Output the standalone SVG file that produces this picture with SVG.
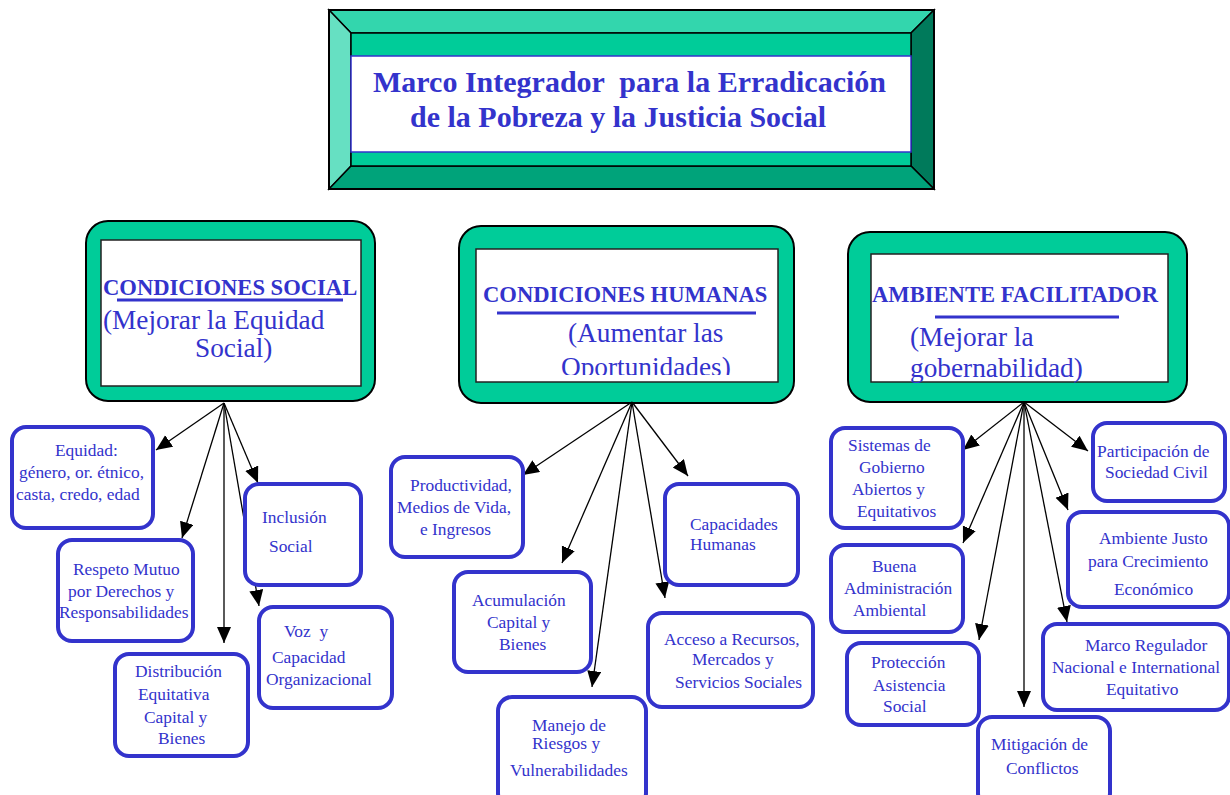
<svg xmlns="http://www.w3.org/2000/svg" width="1230" height="795" viewBox="0 0 1230 795">
<style>
.t{font-family:"Liberation Serif","Times New Roman",serif;fill:#3333cc}
.title{font-size:30px;font-weight:bold}
.hb{font-size:22.6px;font-weight:bold}
.hs{font-size:27.3px}
.lf{font-size:17.4px}
.outer{fill:#00cc99;stroke:#000;stroke-width:2}
.inner{fill:#fff;stroke:#222;stroke-width:1.5}
.ul{stroke:#3333cc;stroke-width:3}
.leaf{fill:#fff;stroke:#3333cc;stroke-width:4}
.conn line{stroke:#000;stroke-width:1.3;marker-end:url(#ah)}
.bev{stroke:#000;stroke-width:1.5}
</style>
<defs>
<marker id="ah" markerUnits="userSpaceOnUse" markerWidth="17" markerHeight="15" refX="16" refY="7" orient="auto">
<path d="M0,0 L16,7 L0,14 z" fill="#000"/>
</marker>
<clipPath id="c2"><rect x="476" y="249" width="302" height="126"/></clipPath>
</defs>
<rect width="1230" height="795" fill="#fff"/>

<g id="title">
<polygon class="bev" points="329,10 934,10 911,33 351,33" fill="#33d6ad"/>
<polygon class="bev" points="329,10 351,33 351,166 329,189" fill="#66e0c2"/>
<polygon class="bev" points="934,10 934,189 911,166 911,33" fill="#007a5b"/>
<polygon class="bev" points="329,189 351,166 911,166 934,189" fill="#00a37a"/>
<rect x="351" y="33" width="560" height="133" fill="#00cc99" stroke="#000" stroke-width="1.5"/>
<rect x="351" y="56" width="560" height="96" fill="#fff" stroke="#3333cc" stroke-width="1.5"/>
<rect x="329" y="10" width="605" height="179" fill="none" stroke="#000" stroke-width="2"/>
<text class="t title" x="373" y="92" xml:space="preserve">Marco Integrador  para la Erradicación</text>
<text class="t title" x="410" y="127">de la Pobreza y la Justicia Social</text>
</g>

<g id="social">
<rect class="outer" x="86" y="221" width="289" height="180" rx="22"/>
<rect class="inner" x="101" y="240" width="260" height="146"/>
<text class="t hb" x="103" y="295">CONDICIONES SOCIAL</text>
<line class="ul" x1="117" y1="300" x2="343" y2="300"/>
<text class="t hs" x="103" y="329">(Mejorar la Equidad</text>
<text class="t hs" x="195" y="357">Social)</text>
</g>

<g id="humanas">
<rect class="outer" x="459" y="226" width="335" height="177" rx="22"/>
<rect class="inner" x="476" y="249" width="302" height="133"/>
<text class="t hb" x="483" y="302">CONDICIONES HUMANAS</text>
<line class="ul" x1="497" y1="313" x2="756" y2="313"/>
<text class="t hs" x="568" y="342">(Aumentar las</text>
<text class="t hs" x="561" y="376" clip-path="url(#c2)">Oportunidades)</text>
</g>

<g id="ambiente">
<rect class="outer" x="848" y="232" width="339" height="170" rx="22"/>
<rect class="inner" x="871" y="254" width="297" height="128"/>
<text class="t hb" x="872" y="302">AMBIENTE FACILITADOR</text>
<line class="ul" x1="935" y1="317" x2="1119" y2="317"/>
<text class="t hs" x="910" y="346">(Mejorar la</text>
<text class="t hs" x="910" y="377">gobernabilidad)</text>
</g>

<g id="connectors" class="conn">
<line x1="224" y1="403" x2="156" y2="450"/>
<line x1="224" y1="403" x2="182" y2="538"/>
<line x1="224" y1="403" x2="224" y2="643"/>
<line x1="224" y1="403" x2="258" y2="483"/>
<line x1="224" y1="403" x2="259" y2="606"/>
<line x1="632" y1="402" x2="523" y2="475"/>
<line x1="632" y1="402" x2="562" y2="563"/>
<line x1="632" y1="402" x2="592" y2="687"/>
<line x1="632" y1="402" x2="688" y2="476"/>
<line x1="632" y1="402" x2="665" y2="598"/>
<line x1="1024" y1="402" x2="963" y2="450"/>
<line x1="1024" y1="402" x2="963" y2="543"/>
<line x1="1024" y1="402" x2="979" y2="640"/>
<line x1="1024" y1="402" x2="1024" y2="707"/>
<line x1="1024" y1="402" x2="1067" y2="622"/>
<line x1="1024" y1="402" x2="1068" y2="510"/>
<line x1="1024" y1="402" x2="1088" y2="451"/>
</g>

<g id="equidad">
<rect class="leaf" x="12" y="427" width="141" height="101" rx="14"/>
<text class="t lf" x="55" y="456">Equidad:</text>
<text class="t lf" x="19" y="478">género, or. étnico,</text>
<text class="t lf" x="16" y="500">casta, credo, edad</text>
</g>
<g id="respeto">
<rect class="leaf" x="58" y="540" width="135" height="101" rx="14"/>
<text class="t lf" x="73" y="575">Respeto Mutuo</text>
<text class="t lf" x="68" y="597">por Derechos y</text>
<text class="t lf" x="59" y="618">Responsabilidades</text>
</g>
<g id="distribucion">
<rect class="leaf" x="115" y="654" width="133" height="102" rx="14"/>
<text class="t lf" x="135" y="677">Distribución</text>
<text class="t lf" x="138" y="700">Equitativa</text>
<text class="t lf" x="144" y="723">Capital y</text>
<text class="t lf" x="158" y="744">Bienes</text>
</g>
<g id="inclusion">
<rect class="leaf" x="245" y="484" width="116" height="101" rx="14"/>
<text class="t lf" x="262" y="523">Inclusión</text>
<text class="t lf" x="269" y="552">Social</text>
</g>
<g id="voz">
<rect class="leaf" x="259" y="607" width="133" height="101" rx="14"/>
<text class="t lf" x="284" y="637" xml:space="preserve">Voz  y</text>
<text class="t lf" x="272" y="663">Capacidad</text>
<text class="t lf" x="266" y="685">Organizacional</text>
</g>

<g id="productividad">
<rect class="leaf" x="391" y="457" width="132" height="100" rx="14"/>
<text class="t lf" x="410" y="491">Productividad,</text>
<text class="t lf" x="397" y="513">Medios de Vida,</text>
<text class="t lf" x="420" y="535">e Ingresos</text>
</g>
<g id="acumulacion">
<rect class="leaf" x="454" y="572" width="137" height="100" rx="14"/>
<text class="t lf" x="472" y="606">Acumulación</text>
<text class="t lf" x="487" y="628">Capital y</text>
<text class="t lf" x="499" y="650">Bienes</text>
</g>
<g id="manejo">
<rect class="leaf" x="498" y="697" width="148" height="110" rx="14"/>
<text class="t lf" x="532" y="731">Manejo de</text>
<text class="t lf" x="532" y="749">Riesgos y</text>
<text class="t lf" x="510" y="776">Vulnerabilidades</text>
</g>
<g id="capacidades">
<rect class="leaf" x="665" y="484" width="133" height="101" rx="14"/>
<text class="t lf" x="690" y="530">Capacidades</text>
<text class="t lf" x="690" y="550">Humanas</text>
</g>
<g id="acceso">
<rect class="leaf" x="648" y="613" width="165" height="94" rx="14"/>
<text class="t lf" x="664" y="645">Acceso a Recursos,</text>
<text class="t lf" x="692" y="665">Mercados y</text>
<text class="t lf" x="675" y="688">Servicios Sociales</text>
</g>

<g id="sistemas">
<rect class="leaf" x="831" y="428" width="132" height="100" rx="14"/>
<text class="t lf" x="848" y="451">Sistemas de</text>
<text class="t lf" x="859" y="473">Gobierno</text>
<text class="t lf" x="852" y="495">Abiertos y</text>
<text class="t lf" x="857" y="517">Equitativos</text>
</g>
<g id="buena">
<rect class="leaf" x="831" y="545" width="132" height="87" rx="14"/>
<text class="t lf" x="872" y="572">Buena</text>
<text class="t lf" x="844" y="594">Administración</text>
<text class="t lf" x="853" y="616">Ambiental</text>
</g>
<g id="proteccion">
<rect class="leaf" x="847" y="643" width="132" height="82" rx="14"/>
<text class="t lf" x="871" y="668">Protección</text>
<text class="t lf" x="873" y="691">Asistencia</text>
<text class="t lf" x="883" y="712">Social</text>
</g>
<g id="mitigacion">
<rect class="leaf" x="978" y="717" width="132" height="90" rx="14"/>
<text class="t lf" x="991" y="750">Mitigación de</text>
<text class="t lf" x="1006" y="774">Conflictos</text>
</g>
<g id="participacion">
<rect class="leaf" x="1093" y="423" width="132" height="78" rx="14"/>
<text class="t lf" x="1097" y="457">Participación de</text>
<text class="t lf" x="1105" y="478">Sociedad Civil</text>
</g>
<g id="justo">
<rect class="leaf" x="1068" y="512" width="161" height="95" rx="14"/>
<text class="t lf" x="1099" y="544">Ambiente Justo</text>
<text class="t lf" x="1088" y="567">para Crecimiento</text>
<text class="t lf" x="1114" y="595">Económico</text>
</g>
<g id="regulador">
<rect class="leaf" x="1043" y="624" width="186" height="86" rx="14"/>
<text class="t lf" x="1085" y="651">Marco Regulador</text>
<text class="t lf" x="1052" y="673">Nacional e International</text>
<text class="t lf" x="1106" y="695">Equitativo</text>
</g>
</svg>
